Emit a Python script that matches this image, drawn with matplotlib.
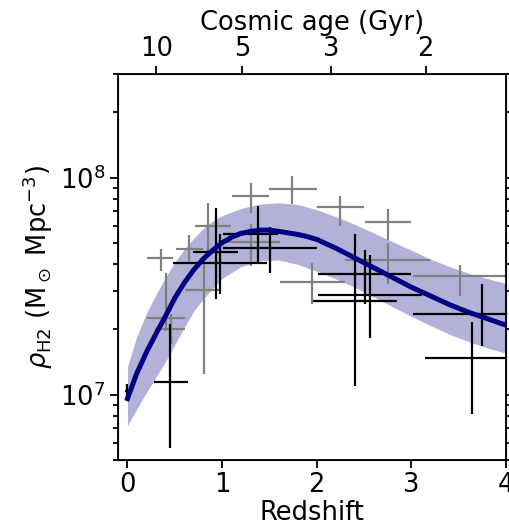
import numpy as np
import matplotlib.pyplot as plt

# all densities in units of 1e7 Msun / Mpc^3
# model curve
curve_z = [0.0, 0.1, 0.2, 0.3, 0.4, 0.5, 0.6, 0.7, 0.8, 0.9, 1.0, 1.1, 1.2, 1.3,
           1.4, 1.5, 1.6, 1.7, 1.8, 1.9, 2.0, 2.2, 2.4, 2.6, 2.8, 3.0, 3.2, 3.4,
           3.6, 3.8, 4.0]
curve_rho = [0.959, 1.259, 1.567, 1.905, 2.291, 2.786, 3.273, 3.758, 4.217, 4.624,
             5.012, 5.309, 5.534, 5.649, 5.728, 5.728, 5.649, 5.559, 5.470, 5.346,
             5.188, 4.732, 4.266, 3.846, 3.467, 3.126, 2.851, 2.600, 2.399, 2.239,
             2.089]

# uncertainty band of the model
band_z = [0.0, 0.1, 0.2, 0.3, 0.4, 0.5, 0.6, 0.7, 0.8, 0.9, 1.0, 1.2, 1.4, 1.6,
          1.8, 2.0, 2.2, 2.4, 2.6, 2.8, 3.0, 3.2, 3.4, 3.6, 3.8, 4.0]
band_hi = [1.349, 1.862, 2.371, 2.884, 3.467, 4.074, 4.677, 5.248, 5.821, 6.310,
           6.683, 7.211, 7.551, 7.656, 7.516, 7.112, 6.607, 6.095, 5.559, 5.070,
           4.624, 4.217, 3.890, 3.631, 3.428, 3.251]
band_lo = [0.719, 0.861, 1.023, 1.202, 1.413, 1.698, 2.042, 2.427, 2.754, 3.090,
           3.428, 3.890, 4.140, 4.169, 3.981, 3.698, 3.412, 3.126, 2.818, 2.541,
           2.291, 2.080, 1.897, 1.758, 1.641, 1.549]

# grey measurements: z, z_lo, z_hi, rho, rho_lo, rho_hi
grey_z = [0.35, 0.41, 0.46, 0.65, 0.81, 0.85, 1.30, 1.31, 1.74, 1.95, 2.25, 2.75, 2.75, 3.51]
grey_zlo = [0.21, 0.21, 0.29, 0.51, 0.61, 0.71, 1.10, 1.01, 1.50, 1.61, 2.00, 2.51, 2.30, 3.02]
grey_zhi = [0.48, 0.61, 0.61, 0.80, 0.98, 1.09, 1.50, 1.61, 2.00, 2.30, 2.50, 3.00, 3.20, 4.01]
grey_rho = [4.28, 2.26, 2.01, 4.71, 3.05, 6.01, 8.26, 5.04, 8.87, 3.30, 7.35, 6.22, 4.15, 3.53]
grey_rlo = [3.72, 1.97, 1.72, 4.06, 1.25, 4.38, 6.90, 3.93, 7.59, 2.62, 6.01, 5.13, 3.25, 2.86]
grey_rhi = [4.71, 3.65, 2.36, 5.41, 4.15, 7.67, 9.48, 6.14, 10.2, 4.02, 8.26, 7.13, 5.01, 3.97]

# black measurements
black_z = [0.0, 0.45, 0.94, 0.98, 1.38, 1.51, 2.40, 2.51, 2.56, 3.75, 3.64]
black_zlo = [-0.03, 0.28, 0.69, 0.48, 1.01, 1.01, 1.96, 2.01, 2.01, 3.02, 3.14]
black_zhi = [0.02, 0.64, 1.17, 1.47, 1.59, 2.00, 2.85, 3.00, 3.11, 4.50, 4.20]
black_rho = [1.035, 1.14, 4.56, 4.06, 5.52, 4.75, 2.69, 3.61, 2.89, 2.36, 1.48]
black_rlo = [0.968, 0.57, 2.77, 2.92, 4.06, 3.65, 1.10, 2.62, 1.83, 1.68, 0.817]
black_rhi = [1.12, 2.12, 7.28, 5.52, 7.43, 5.89, 5.52, 4.66, 4.38, 3.25, 2.15]

# top axis
age_ticks = [10, 5, 3, 2]


def age_to_z(t, h0=70.0, om=0.3):
    # flat LCDM, inverse of the analytic age-redshift relation
    ol = 1.0 - om
    hubble_time = 977.8 / h0
    x = np.sinh(np.asarray(t) * 1.5 * np.sqrt(ol) / hubble_time) / np.sqrt(ol / om)
    return x ** (-2.0 / 3.0) - 1.0


def errs(val, lo, hi, scale=1.0):
    val = np.asarray(val) * scale
    return val, np.vstack([val - np.asarray(lo) * scale, np.asarray(hi) * scale - val])


plt.rcParams['font.family'] = 'DejaVu Sans'
plt.rcParams['font.size'] = 18.5

fig = plt.figure(figsize=(5.10, 5.26), dpi=100)
ax = fig.add_axes([0.2314, 0.1255, 0.761, 0.7338])

s = 1e7
ax.fill_between(band_z, [v * s for v in band_lo], [v * s for v in band_hi],
                color='navy', alpha=0.3, lw=0, zorder=1)

gx, gxe = errs(grey_z, grey_zlo, grey_zhi)
gy, gye = errs(grey_rho, grey_rlo, grey_rhi, s)
ax.errorbar(gx, gy, xerr=gxe, yerr=gye, fmt='none', ecolor='grey', elinewidth=1.6, zorder=2)

bx, bxe = errs(black_z, black_zlo, black_zhi)
by, bye = errs(black_rho, black_rlo, black_rhi, s)
ax.errorbar(bx, by, xerr=bxe, yerr=bye, fmt='none', ecolor='black', elinewidth=1.6, zorder=2)

ax.plot(curve_z, [v * s for v in curve_rho], color='navy', lw=3.6, zorder=3)

ax.set_yscale('log')
ax.set_xlim(-0.1, 4.0)
ax.set_ylim(5e6, 3e8)
ax.set_xticks([0, 1, 2, 3, 4])
ax.set_xlabel('Redshift', labelpad=1)
ax.set_ylabel(r'$\rho_{\rm H2}$ (M$_\odot$ Mpc$^{-3}$)', labelpad=4)
ax.tick_params(which='both', width=1.3, right=True)
ax.tick_params(which='major', length=5.5)
ax.tick_params(which='minor', length=3.5)
for sp in ax.spines.values():
    sp.set_linewidth(1.3)

top = ax.twiny()
top.set_xlim(ax.get_xlim())
top.set_xticks(age_to_z(age_ticks))
top.set_xticklabels([str(a) for a in age_ticks])
top.tick_params(width=1.3, length=5.5)
top.set_xlabel('Cosmic age (Gyr)', labelpad=4)

fig.savefig('out.png', dpi=100)
